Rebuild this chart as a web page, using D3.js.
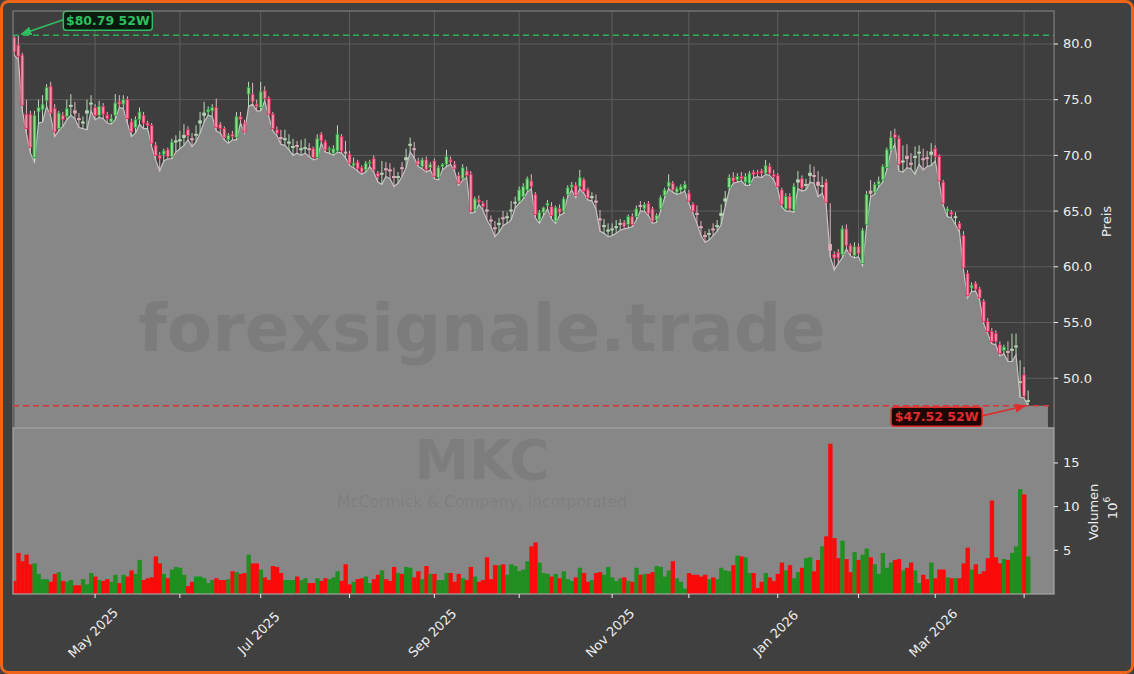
<!DOCTYPE html>
<html><head><meta charset="utf-8">
<script src="https://cdn.jsdelivr.net/npm/d3@7"></script>
<style>html,body{margin:0;padding:0;background:#404040;}svg{display:block;font-family:"DejaVu Sans",sans-serif;}</style>
</head><body><svg id="c" width="1134" height="674"></svg>
<script>
// ---- DATA ----
const opens = [80.6,79.9,79.0,73.7,73.7,69.8,73.9,74.1,74.9,76.2,74.2,72.4,73.6,73.5,74.4,74.0,73.3,72.9,73.8,74.6,
74.3,73.6,74.4,73.6,73.0,73.6,74.8,74.6,75.0,73.0,72.5,73.2,73.6,72.9,72.7,70.9,70.0,70.1,70.5,69.9,
71.2,71.3,71.6,72.3,71.5,71.8,72.9,73.6,73.9,74.0,74.3,72.8,72.4,71.4,71.9,71.6,73.5,72.9,75.5,75.5,
74.6,74.3,75.8,75.1,73.7,72.3,71.6,71.4,71.1,70.7,70.9,70.5,70.6,70.6,70.6,69.8,71.9,71.2,70.5,70.2,
70.4,71.7,70.3,70.1,69.1,69.4,68.9,68.7,69.3,69.7,68.4,68.3,68.8,68.7,68.1,68.0,68.9,69.6,70.9,70.6,
69.5,69.0,69.6,68.9,69.5,68.0,69.0,69.2,69.6,69.2,68.2,67.9,68.6,68.3,65.1,66.0,65.7,65.1,64.2,63.5,
63.8,64.4,64.4,65.0,65.7,65.9,66.3,66.9,67.7,66.5,64.2,64.9,65.5,65.4,64.1,65.2,65.0,66.5,67.15,67.3,
67.2,67.8,66.9,66.2,65.9,64.3,63.6,63.2,63.3,63.5,63.8,64.0,63.8,64.5,64.5,65.5,65.2,65.7,65.2,64.2,
65.2,66.4,67.2,67.5,66.7,66.9,67.0,66.6,65.6,64.8,63.6,62.8,62.9,63.4,63.6,64.6,65.9,67.1,68.0,67.8,
68.1,67.6,67.5,68.5,68.5,68.6,68.4,69.0,68.3,68.2,66.9,65.2,66.3,65.1,67.6,67.9,67.3,68.2,68.2,67.6,
67.2,67.6,62.0,61.1,61.3,61.1,63.4,61.9,61.0,61.8,60.3,63.8,66.8,66.7,67.4,67.8,68.9,70.5,71.9,71.5,
69.4,69.9,69.3,69.8,70.2,69.7,69.8,70.1,70.6,69.9,67.6,65.0,64.9,64.4,63.9,62.8,59.4,58.1,58.5,58.0,
56.9,55.1,54.2,54.0,53.0,52.5,52.4,52.5,52.8,49.6,50.3,47.9];
const highs = [80.7,80.79,79.2,75.0,74.0,74.0,75.0,75.4,76.4,76.6,74.6,74.0,73.9,75.0,75.5,74.8,73.8,73.5,75.0,75.4,
74.6,74.9,74.7,73.9,73.7,75.5,75.4,75.4,75.3,73.3,73.5,74.3,73.9,73.1,72.9,71.2,70.3,70.6,70.7,71.5,
71.8,72.2,72.8,72.6,72.0,72.7,73.9,74.8,74.4,74.6,75.1,73.0,72.6,72.0,72.2,73.9,73.9,73.2,76.6,76.5,
75.0,76.6,76.2,75.3,73.9,72.6,72.3,72.3,71.9,71.5,71.3,71.4,71.5,71.1,70.8,71.9,72.1,71.4,70.8,70.9,
72.7,71.9,71.3,70.4,69.8,69.6,69.1,69.5,69.6,70.0,68.6,69.5,69.4,69.3,68.9,68.5,69.4,70.6,71.6,71.2,
69.8,69.8,69.9,69.4,69.7,69.1,69.3,70.5,69.9,69.5,68.5,69.2,69.0,68.6,66.3,66.4,65.9,66.0,64.6,64.1,
64.4,65.0,64.9,65.9,66.3,67.2,67.5,68.1,68.3,66.7,65.1,65.4,66.0,65.8,65.5,65.6,66.3,67.3,67.6,67.6,
68.7,68.0,67.1,66.7,66.5,65.1,64.3,63.9,63.9,64.2,64.3,64.2,64.7,64.8,65.5,65.9,65.8,65.9,65.4,64.8,
66.4,67.1,68.3,67.7,67.2,67.4,67.7,66.9,65.8,65.5,64.1,63.2,63.4,63.9,64.2,65.6,66.8,68.3,68.5,68.4,
68.5,68.4,68.6,68.7,68.7,68.8,69.6,69.3,68.7,68.4,67.1,66.6,66.6,67.5,68.6,68.2,67.9,69.2,69.0,68.6,
68.1,67.9,65.7,61.4,61.6,63.7,63.8,62.1,62.2,62.1,63.5,66.8,67.8,67.6,68.1,69.2,70.7,72.2,72.4,71.8,
70.9,71.0,70.2,70.8,70.9,70.6,70.4,71.1,70.9,70.1,67.8,65.4,65.1,64.9,64.1,63.2,59.7,58.6,58.7,58.2,
57.1,55.4,54.5,54.3,53.3,53.0,53.3,54.0,54.0,51.6,51.0,48.9];
const lows = [79.0,78.6,74.0,72.0,70.2,69.4,72.9,73.0,74.4,73.5,71.7,72.2,72.6,73.2,73.6,73.3,72.5,72.4,72.3,74.0,
73.2,73.4,73.3,72.9,72.8,73.2,74.3,74.2,72.9,71.7,72.0,72.8,72.4,72.4,70.8,69.6,68.6,69.5,69.7,69.7,
70.3,70.6,70.9,71.4,70.8,71.2,72.0,73.0,73.6,73.5,72.2,72.0,71.4,71.1,71.4,71.4,72.9,72.0,74.4,74.6,
74.0,74.0,74.9,73.5,72.2,71.8,71.0,70.9,70.5,70.0,70.2,70.0,70.2,69.9,69.6,69.7,71.1,70.3,70.2,70.0,
70.3,70.2,69.8,69.1,68.9,68.6,68.3,68.5,69.0,68.5,67.6,67.4,68.1,67.9,67.2,67.5,68.1,68.9,70.3,69.8,
69.0,68.8,68.5,68.7,67.9,67.8,68.7,69.0,69.2,68.6,67.3,67.8,68.0,64.8,64.9,65.6,65.1,64.2,63.6,62.7,
63.1,63.7,63.9,64.2,65.3,65.7,66.1,66.7,67.0,64.4,63.9,64.6,65.2,64.3,63.9,64.6,64.8,66.3,66.9,66.2,
67.0,66.6,66.0,65.9,65.2,63.2,63.0,62.7,62.8,63.0,63.3,63.4,63.5,63.6,64.2,65.0,65.0,64.6,63.9,64.0,
65.0,66.2,67.0,66.7,66.5,66.6,66.8,65.7,64.8,63.9,62.8,62.2,62.4,62.8,63.2,63.8,65.4,66.9,67.5,67.6,
67.7,67.3,67.3,68.0,68.1,68.0,68.3,68.2,67.8,67.0,65.4,65.0,65.0,64.9,67.0,66.8,66.9,67.6,67.5,66.3,
66.6,65.6,60.9,59.7,60.3,60.8,61.6,61.0,60.8,60.9,60.1,63.6,66.3,66.5,67.2,67.6,68.7,70.3,71.0,68.6,
68.5,68.9,68.8,68.3,69.2,68.7,69.0,69.1,69.5,67.5,65.5,64.5,64.4,63.8,63.1,59.7,57.2,57.8,57.8,57.0,
54.9,54.0,53.1,53.0,52.0,52.2,51.5,51.5,52.1,48.3,48.2,47.52];
const closes = [79.3,78.9,74.5,72.4,70.7,73.6,74.3,74.6,76.1,73.8,72.1,73.8,73.2,74.2,74.5,73.8,73.2,73.0,74.0,74.7,
73.6,74.4,73.7,73.3,73.3,74.7,74.6,75.0,73.3,72.1,73.2,73.9,72.9,72.7,71.1,70.0,69.7,70.4,69.9,71.2,
71.3,71.4,71.8,71.8,71.4,71.9,73.1,73.8,74.1,74.3,72.5,72.4,71.6,71.8,71.7,73.5,73.2,72.1,76.1,74.8,
74.4,75.7,75.1,73.7,72.4,72.0,71.5,71.5,71.2,70.8,70.8,70.6,70.7,70.5,69.8,71.5,71.3,70.5,70.6,70.6,
71.9,70.4,70.2,69.3,69.3,68.8,68.5,69.3,69.4,68.7,68.1,68.4,68.7,68.6,68.0,68.1,68.8,69.8,71.0,70.5,
69.2,69.6,68.7,69.2,68.1,68.9,69.2,69.9,69.4,68.8,67.5,68.9,68.2,65.0,66.1,65.8,65.4,65.0,64.1,63.4,
63.9,64.3,64.5,65.1,65.8,66.9,67.2,67.9,67.2,64.7,64.9,65.3,65.7,64.6,65.3,64.9,66.1,67.1,67.35,66.4,
68.0,66.8,66.2,66.3,65.8,64.2,63.7,63.3,63.4,63.6,63.9,63.6,64.5,63.8,65.2,65.4,65.6,64.8,64.1,64.6,
66.2,66.9,67.6,66.9,67.0,67.2,67.4,65.9,65.0,64.7,63.5,62.7,63.0,63.3,63.7,64.8,66.1,68.0,67.7,68.1,
67.9,68.1,68.4,68.3,68.4,68.4,69.1,68.4,68.1,67.2,65.6,66.3,65.2,67.2,67.8,67.1,67.4,68.4,68.1,67.3,
67.3,65.8,61.5,60.8,60.8,63.4,61.9,61.3,61.8,61.2,63.3,66.5,66.6,67.4,67.7,69.0,70.5,71.6,71.6,69.2,
69.5,69.7,69.2,69.9,70.3,69.6,69.7,70.3,69.9,67.7,65.7,65.2,64.7,64.5,63.4,59.9,57.4,58.35,58.0,57.2,
55.1,54.2,53.3,53.3,52.2,52.8,52.3,52.6,52.9,49.7,48.4,48.0];
// volume in millions
const volumes = [1.5,4.7,3.75,4.5,3.4,3.5,2.3,1.7,1.7,1.4,2.3,2.5,1.5,1.4,1.6,1.0,1.0,1.7,1.1,2.4,
2.0,1.6,1.5,1.7,1.4,2.2,1.25,2.2,2.0,2.7,2.3,3.9,1.6,1.8,1.9,4.3,3.5,2.3,1.8,2.8,
3.1,3.0,2.2,0.9,1.4,2.0,2.0,1.8,1.25,1.6,1.8,1.6,1.6,1.7,2.6,2.5,2.3,2.4,4.5,3.5,
3.5,2.8,1.9,1.6,3.2,3.1,2.4,1.6,1.6,1.6,2.0,1.6,1.8,1.25,1.25,1.8,1.5,1.8,1.7,1.9,
2.6,1.5,3.4,1.1,1.4,1.7,1.8,2.0,1.25,1.7,2.2,2.7,1.7,1.5,3.1,2.4,2.3,3.1,3.0,1.9,
2.6,1.7,3.2,2.3,2.3,1.6,1.6,2.4,2.4,1.4,2.3,1.8,1.6,3.1,2.0,1.4,1.6,4.2,1.7,3.3,
3.3,3.4,2.2,3.4,3.2,2.6,2.8,3.75,5.45,5.9,3.6,2.4,2.3,2.0,2.3,1.8,2.6,1.7,1.5,1.9,
3.0,2.4,1.4,1.6,2.4,2.5,2.2,3.1,1.9,1.5,1.8,1.9,1.5,1.4,3.0,2.2,2.3,2.3,2.5,3.2,
3.1,2.0,2.7,3.75,1.8,1.4,0.6,2.4,2.2,2.2,2.0,2.2,1.7,1.9,1.7,3.0,2.7,2.6,3.3,4.4,
4.3,4.2,2.4,2.4,0.7,1.4,2.4,1.9,1.5,2.3,3.6,2.7,3.3,1.8,2.5,3.0,4.1,4.2,2.6,3.9,
5.45,6.6,17.2,6.4,4.1,6.1,4.0,2.5,4.8,3.9,4.5,5.2,4.2,3.4,2.3,4.7,3.0,3.6,3.9,4.0,
2.7,3.0,3.6,2.7,1.25,2.2,1.7,3.6,1.8,2.8,2.8,1.9,1.8,1.8,1.8,3.5,5.3,2.8,3.4,2.3,
2.6,4.1,10.7,4.2,3.5,4.0,3.9,4.7,5.45,12.0,11.4,4.3];
const monthTickIdx = [20,41,61,83,104,125,148,167,189,209,228,250];
const monthLabels = ["May 2025","","Jul 2025","","Sep 2025","","Nov 2025","","Jan 2026","","Mar 2026",""];
const priceTicks = [50,55,60,65,70,75,80];
const volTicks = [5,10,15];
const watermarkText = "forexsignale.trade";
const tickerText = "MKC";
const companyText = "McCormick & Company, Incorporated";
const priceLabel = "Preis";
const volLabel = "Volumen";

// ---- LAYOUT ----
const L=13,R=1054,PT=11,PB=428,VT=428,VB=594;
const N = closes.length;
const svg = d3.select("#c");
const x = d3.scaleLinear().domain([-0.32,257.4]).range([L,R]);
const y = d3.scaleLinear().domain([45.53,82.96]).range([PB,PT]);
const yv = d3.scaleLinear().domain([0,19]).range([VB,VT]);
const step = x(1)-x(0);

// background + frame
svg.append("rect").attr("x",1.5).attr("y",1.5).attr("width",1131).attr("height",671)
  .attr("rx",7).attr("fill","#404040").attr("stroke","#ee6418").attr("stroke-width",3);

const defs = svg.append("defs");
defs.append("clipPath").attr("id","pclip").append("rect").attr("x",L).attr("y",PT).attr("width",R-L).attr("height",PB-PT);
defs.append("clipPath").attr("id","vclip").append("rect").attr("x",L).attr("y",VT).attr("width",R-L).attr("height",VB-VT);

// price panel background
svg.append("rect").attr("x",L).attr("y",PT).attr("width",R-L).attr("height",PB-PT).attr("fill","#3e3e3e");
const pg = svg.append("g").attr("clip-path","url(#pclip)");
// grid
pg.selectAll("line.hg").data(priceTicks).join("line").attr("x1",L).attr("x2",R)
  .attr("y1",d=>y(d)).attr("y2",d=>y(d)).attr("stroke","#5e5e5e").attr("stroke-width",1);
pg.selectAll("line.vg").data(monthTickIdx).join("line").attr("y1",PT).attr("y2",PB)
  .attr("x1",d=>x(d)).attr("x2",d=>x(d)).attr("stroke","#5e5e5e").attr("stroke-width",1);

// area under lows
const areaPts = lows.map((v,i)=>[i,v]);
areaPts.push([N-1+4.9, lows[N-1]]);
pg.append("path").datum(areaPts)
  .attr("d", d3.area().x(d=>x(d[0])).y0(PB).y1(d=>y(d[1])))
  .attr("fill","#878787");
pg.append("path").datum(areaPts.slice(0,N))
  .attr("d", d3.line().x(d=>x(d[0])).y(d=>y(d[1])))
  .attr("fill","none").attr("stroke","#c4c4c4").attr("stroke-width",1.2);

// watermark
pg.append("text").attr("x",482).attr("y",351).attr("text-anchor","middle")
  .attr("font-size",66).attr("font-weight","bold").attr("fill","#000").attr("fill-opacity",0.08)
  .text(watermarkText);

// candles
const cg = pg.append("g");
const bw = step*0.7;
for (let i=0;i<N;i++){
  const o=opens[i],h=highs[i],l=lows[i],c=closes[i];
  const up = c>=o;
  const pale = Math.abs(c-o) < 0.15*(h-l);
  const wickCol = up ? "#b9dcb9" : "#e6b3bf";
  cg.append("line").attr("x1",x(i)).attr("x2",x(i)).attr("y1",y(h)).attr("y2",y(l))
    .attr("stroke",wickCol).attr("stroke-width",1);
  const top=y(Math.max(o,c)), bot=y(Math.min(o,c));
  let fill, stroke;
  if (pale){ fill = up ? "#b5d8b5" : "#e2acb9"; stroke = fill; }
  else { fill = up ? "#8ee08e" : "#f590a8"; stroke = up ? "#2a9d3a" : "#e0285a"; }
  cg.append("rect").attr("x",x(i)-bw/2).attr("y",top).attr("width",bw).attr("height",Math.max(0.8,bot-top))
    .attr("fill",fill).attr("stroke",stroke).attr("stroke-width",0.8);
}

// 52W lines and annotations
const maxH = d3.max(highs), iMax = highs.indexOf(maxH);
const minL = d3.min(lows), iMin = lows.indexOf(minL);
pg.append("line").attr("x1",L).attr("x2",R).attr("y1",y(maxH)).attr("y2",y(maxH))
  .attr("stroke","#2fae58").attr("stroke-width",1.5).attr("stroke-dasharray","6,4");
pg.append("line").attr("x1",L).attr("x2",R).attr("y1",y(minL)).attr("y2",y(minL))
  .attr("stroke","#d93434").attr("stroke-width",1.5).attr("stroke-dasharray","6,4");

defs.append("marker").attr("id","ag").attr("viewBox","0 0 10 10").attr("refX",9).attr("refY",5)
  .attr("markerWidth",7).attr("markerHeight",7).attr("orient","auto")
  .append("path").attr("d","M0,1 L10,5 L0,9 z").attr("fill","#2fbf60");
defs.append("marker").attr("id","ar").attr("viewBox","0 0 10 10").attr("refX",9).attr("refY",5)
  .attr("markerWidth",7).attr("markerHeight",7).attr("orient","auto")
  .append("path").attr("d","M0,1 L10,5 L0,9 z").attr("fill","#e02c2c");

function annot(tx,ty,bx,by,bwid,bh,label,col,bg,marker,fromRight){
  const ax = fromRight ? bx+bwid : bx;
  svg.append("line").attr("x1",ax).attr("y1",by+bh*0.45).attr("x2",tx).attr("y2",ty)
    .attr("stroke",col).attr("stroke-width",1.6).attr("marker-end",`url(#${marker})`);
  svg.append("rect").attr("x",bx).attr("y",by).attr("width",bwid).attr("height",bh).attr("rx",3)
    .attr("fill",bg).attr("stroke",col).attr("stroke-width",1.5);
  svg.append("text").attr("x",bx+bwid/2).attr("y",by+bh/2).attr("text-anchor","middle")
    .attr("dominant-baseline","central").attr("font-size",12.5).attr("font-weight","bold")
    .attr("fill",col).text(label);
}
const gx = x(iMax)+3, gy = y(maxH)-1;
annot(gx, gy, gx+42, gy-23, 89, 19, "$"+maxH.toFixed(2)+" 52W", "#2fbf60", "#071a0d", "ag", false);
const rx = x(iMin)-3, ry = y(minL);
annot(rx, ry, rx-134, ry+1.5, 91, 19, "$"+minL.toFixed(2)+" 52W", "#e02c2c", "#1e0606", "ar", true);

// price panel border
svg.append("rect").attr("x",L).attr("y",PT).attr("width",R-L).attr("height",PB-PT)
  .attr("fill","none").attr("stroke","#8a8a8a").attr("stroke-width",1);

// volume panel
svg.append("rect").attr("x",L).attr("y",VT).attr("width",R-L).attr("height",VB-VT).attr("fill","#878787");
const vg = svg.append("g").attr("clip-path","url(#vclip)");
vg.append("text").attr("x",482).attr("y",479).attr("text-anchor","middle").attr("font-size",55)
  .attr("font-weight","bold").attr("fill","#000").attr("fill-opacity",0.07).text(tickerText);
vg.append("text").attr("x",482).attr("y",507).attr("text-anchor","middle").attr("font-size",15.5)
  .attr("fill","#000").attr("fill-opacity",0.07).text(companyText);
vg.selectAll("rect.vb").data(volumes).join("rect")
  .attr("x",(d,i)=>x(i)-step/2).attr("width",step+0.3)
  .attr("y",d=>yv(d)).attr("height",d=>VB-yv(d))
  .attr("fill",(d,i)=>closes[i]>=opens[i] ? "#1f8f1f" : "#fb0a0a");
svg.append("rect").attr("x",L).attr("y",VT).attr("width",R-L).attr("height",VB-VT)
  .attr("fill","none").attr("stroke","#a6a6a6").attr("stroke-width",1.2);

// axes
const tc = "#eeeeee";
const ay = svg.append("g");
priceTicks.forEach(t=>{
  ay.append("line").attr("x1",R).attr("x2",R+4).attr("y1",y(t)).attr("y2",y(t)).attr("stroke",tc);
  ay.append("text").attr("x",R+9).attr("y",y(t)).attr("dominant-baseline","central")
    .attr("font-size",13).attr("fill",tc).text(t.toFixed(1));
});
volTicks.forEach(t=>{
  ay.append("line").attr("x1",R).attr("x2",R+4).attr("y1",yv(t)).attr("y2",yv(t)).attr("stroke",tc);
  ay.append("text").attr("x",R+9).attr("y",yv(t)).attr("dominant-baseline","central")
    .attr("font-size",13).attr("fill",tc).text(t);
});
ay.append("text").attr("transform",`translate(1106,${(PT+PB)/2+2}) rotate(-90)`).attr("text-anchor","middle")
  .attr("dominant-baseline","central").attr("font-size",13).attr("fill",tc).text(priceLabel);
ay.append("text").attr("transform",`translate(1093,512) rotate(-90)`).attr("text-anchor","middle")
  .attr("dominant-baseline","central").attr("font-size",13).attr("fill",tc).text(volLabel);
const ex = ay.append("text").attr("transform",`translate(1112,508) rotate(-90)`).attr("text-anchor","middle")
  .attr("dominant-baseline","central").attr("font-size",13).attr("fill",tc);
ex.append("tspan").text("10");
ex.append("tspan").attr("font-size",9).attr("dy",-5).text("6");

monthTickIdx.forEach((t,k)=>{
  ay.append("line").attr("x1",x(t)).attr("x2",x(t)).attr("y1",VB).attr("y2",VB+4).attr("stroke",tc);
  if (monthLabels[k]) {
    ay.append("text").attr("transform",`translate(${x(t)-2},633) rotate(-45)`).attr("text-anchor","middle")
      .attr("dominant-baseline","central").attr("font-size",13).attr("fill",tc).text(monthLabels[k]);
  }
});
</script></body></html>
